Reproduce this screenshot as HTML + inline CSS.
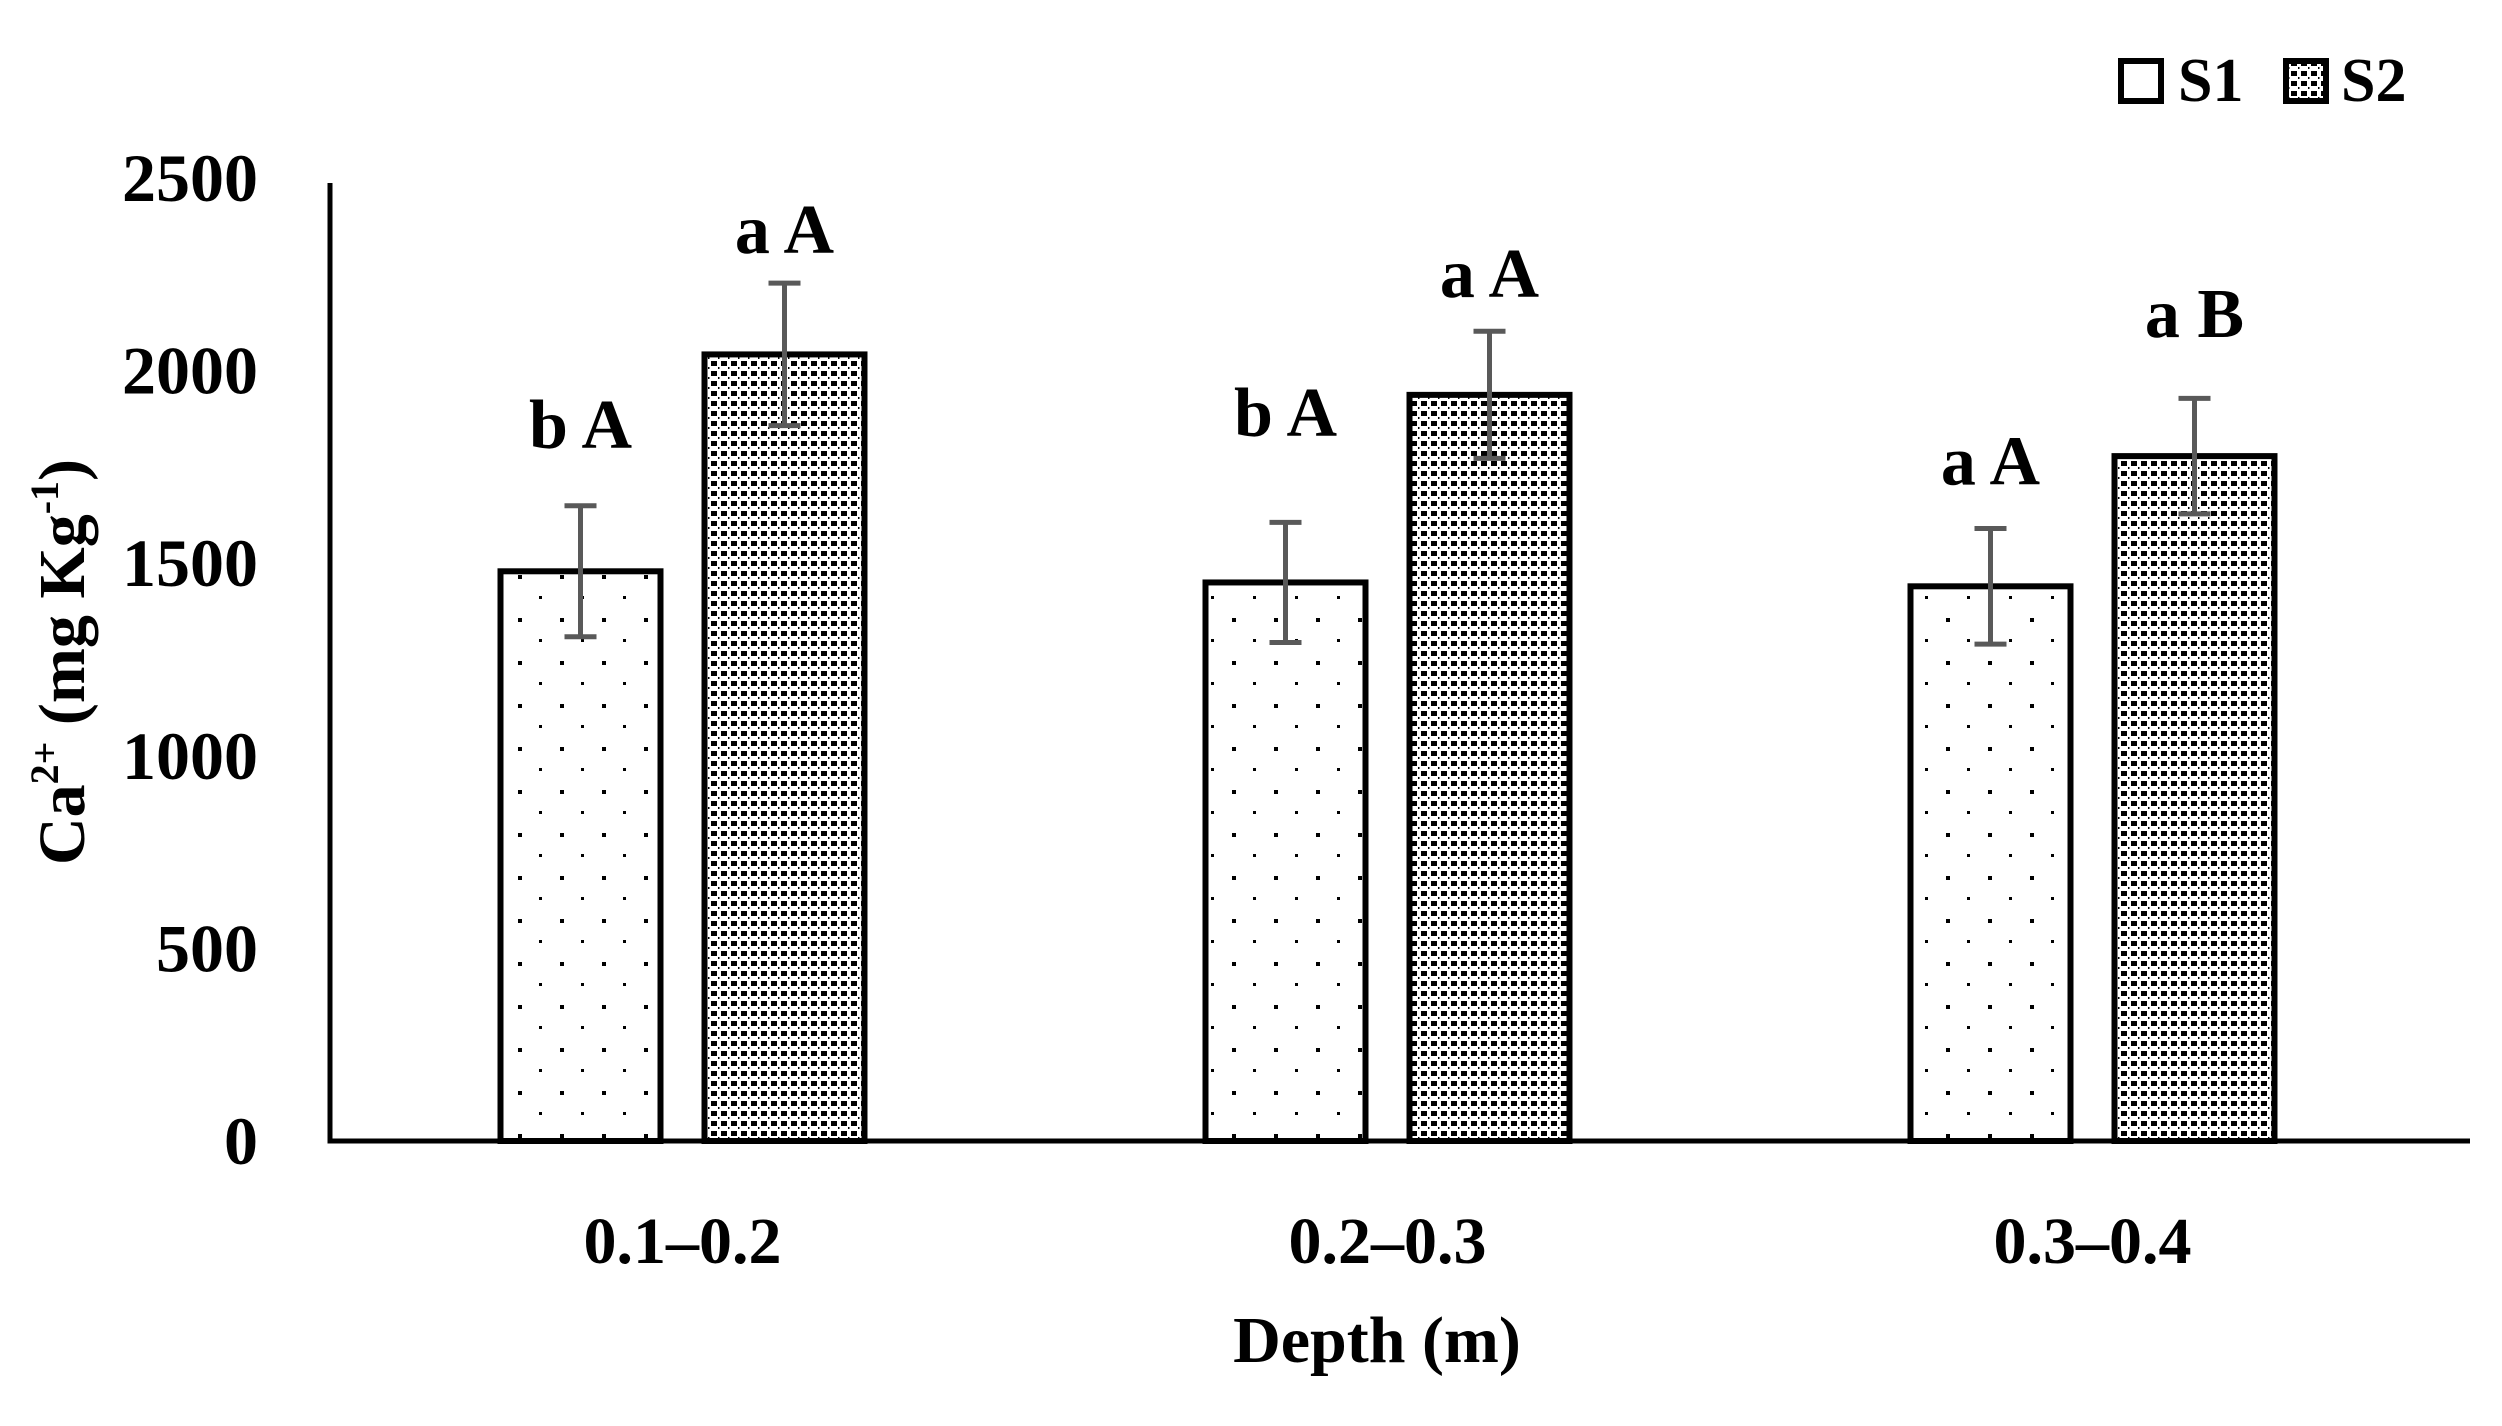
<!DOCTYPE html>
<html><head><meta charset="utf-8"><style>
html,body{margin:0;padding:0;background:#fff}
svg{display:block}
text{font-family:"Liberation Serif",serif;font-weight:bold;fill:#000}
</style></head><body>
<svg id="chart" width="2502" height="1426" viewBox="0 0 2502 1426" xmlns="http://www.w3.org/2000/svg">
<defs>
<pattern id="pS1" patternUnits="userSpaceOnUse" width="42" height="43" x="500" y="0">
<rect x="18" y="16" width="4" height="4" fill="#000"/>
<rect x="39" y="37" width="4" height="3" fill="#000"/>
</pattern>
<pattern id="pS2" patternUnits="userSpaceOnUse" width="10" height="10">
<rect x="1" y="1" width="6" height="5" fill="#000"/>
<rect x="8" y="7" width="1.5" height="2" fill="#000"/>
</pattern>
</defs>
<g id="plot"></g>
<text transform="translate(84,662) rotate(-90)" text-anchor="middle" font-size="66">Ca<tspan font-size="40" dy="-26">2+</tspan><tspan dy="26"> (mg Kg</tspan><tspan font-size="40" dy="-26">-1</tspan><tspan dy="26">)</tspan></text>
<text x="1377" y="1362" text-anchor="middle" font-size="66">Depth (m)</text>
<g>
<rect x="2121" y="61" width="40" height="40" fill="#fff" stroke="#000" stroke-width="6"/>
<text x="2178" y="101" font-size="62">S1</text>
<rect x="2286" y="61" width="40" height="40" fill="url(#pS2)" stroke="#000" stroke-width="6"/>
<text x="2341" y="101" font-size="62">S2</text>
</g>
</svg>
<script>
const categories = ["0.1\u20130.2", "0.2\u20130.3", "0.3\u20130.4"];
const s1Values = [1479, 1450, 1440];
const s2Values = [2042, 1937, 1778];
const s1Errors = [170, 156, 150];
const s2Errors = [185, 165, 150];
const s1Letters = ["b A", "b A", "a A"];
const s2Letters = ["a A", "a A", "a B"];
const s1LetterPos = [1862, 1892, 1767];
const s2LetterPos = [2367, 2254, 2150];
const yTicks = [0, 500, 1000, 1500, 2000, 2500];

const NS = "http://www.w3.org/2000/svg";
const g = document.getElementById("plot");
const X0 = 330, X1 = 2470, Y0 = 1141, K = 0.3852, BAND = 705;
function yScale(v){ return Y0 - v * K; }
function xCenter(i){ return X0 + (i + 0.5) * BAND; }
function mk(tag, attrs){ const e = document.createElementNS(NS, tag); for (const k in attrs) e.setAttribute(k, attrs[k]); g.appendChild(e); return e; }

yTicks.forEach(t => {
  const e = mk("text", {x: 258, y: yScale(t) + 23, "text-anchor": "end", "font-size": 68});
  
  
  e.textContent = t;
});

const BW = 160, GAP = 22;
function drawSeries(vals, errs, letters, lpos, pat, side, nm){
  vals.forEach((v, i) => {
    const c = xCenter(i);
    const x = side < 0 ? c - GAP - BW : c + GAP;
    const r = mk("rect", {x: x, y: yScale(v), width: BW, height: Y0 - yScale(v), fill: "url(#" + pat + ")", stroke: "#000", "stroke-width": 6});
    
    
    const ex = x + BW / 2;
    const e1 = mk("path", {d: "M" + ex + " " + yScale(v + errs[i]) + "V" + yScale(v - errs[i]) + "M" + (ex - 16) + " " + yScale(v + errs[i]) + "h32M" + (ex - 16) + " " + yScale(v - errs[i]) + "h32", stroke: "#595959", "stroke-width": 5, fill: "none"});
    
    
    const t = mk("text", {x: ex, y: yScale(lpos[i]) + 24, "text-anchor": "middle", "font-size": 70});
    
    
    t.textContent = letters[i];
  });
}
drawSeries(s1Values, s1Errors, s1Letters, s1LetterPos, "pS1", -1, "s1");
drawSeries(s2Values, s2Errors, s2Letters, s2LetterPos, "pS2", 1, "s2");

const ax = mk("path", {d: "M" + X0 + " 183V" + Y0 + "H" + X1, stroke: "#000", "stroke-width": 5, fill: "none"});



categories.forEach((c, i) => {
  const e = mk("text", {x: xCenter(i), y: 1263, "text-anchor": "middle", "font-size": 66});
  
  
  e.textContent = c;
});
</script>
</body></html>
